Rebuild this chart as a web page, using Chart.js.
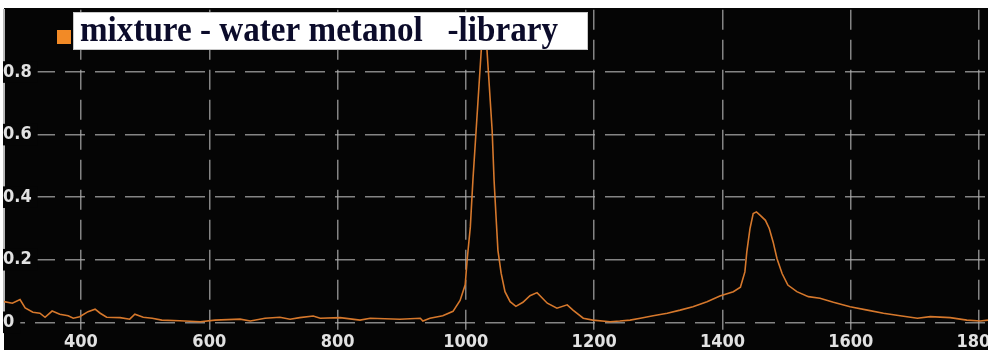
<!DOCTYPE html>
<html>
<head>
<meta charset="utf-8">
<script src="https://cdn.jsdelivr.net/npm/chart.js@4.4.0/dist/chart.umd.min.js"></script>
<style>
  html, body { margin: 0; padding: 0; background: #fff; }
  #wrap { width: 988px; height: 350px; }
</style>
</head>
<body>
<div id="wrap"><canvas id="myChart" width="988" height="350"></canvas></div>
<script>
// spectrum (wavenumber / intensity)
const wavenumbers = [280, 293, 305, 313, 325, 336, 344, 355, 367, 380, 388, 398, 411, 422, 430, 440, 461, 476, 484, 497,
  511, 526, 554, 586, 609, 648, 664, 687, 710, 726, 741, 762, 773, 804, 835, 851, 897, 929, 933, 944,
  964, 980, 991, 999, 1002, 1007, 1011, 1016, 1021, 1024, 1027, 1029, 1031, 1033, 1036, 1041, 1044, 1047, 1050, 1055,
  1061, 1069, 1078, 1089, 1100, 1111, 1127, 1142, 1158, 1167, 1183, 1198, 1225, 1240, 1256, 1272, 1292, 1314, 1334, 1354,
  1376, 1396, 1417, 1428, 1435, 1438, 1443, 1448, 1453, 1459, 1467, 1473, 1479, 1485, 1493, 1502, 1516, 1534, 1552, 1573,
  1599, 1626, 1651, 1677, 1704, 1724, 1755, 1781, 1802, 1814];
const intensity = [0.066, 0.061, 0.073, 0.046, 0.032, 0.029, 0.016, 0.036, 0.026, 0.021, 0.013, 0.018, 0.034, 0.042, 0.029, 0.016, 0.015, 0.010, 0.026, 0.016,
  0.013, 0.007, 0.005, 0.002, 0.007, 0.010, 0.004, 0.013, 0.016, 0.010, 0.015, 0.020, 0.013, 0.015, 0.007, 0.013, 0.010, 0.013, 0.004, 0.013,
  0.021, 0.035, 0.070, 0.120, 0.199, 0.305, 0.454, 0.613, 0.773, 0.869, 0.950, 0.970, 0.950, 0.869, 0.773, 0.613, 0.454, 0.340, 0.230, 0.157,
  0.098, 0.066, 0.051, 0.064, 0.085, 0.095, 0.061, 0.045, 0.056, 0.039, 0.013, 0.007, 0.002, 0.004, 0.007, 0.013, 0.021, 0.029, 0.039, 0.050,
  0.066, 0.084, 0.098, 0.112, 0.161, 0.225, 0.300, 0.348, 0.353, 0.342, 0.326, 0.300, 0.257, 0.204, 0.156, 0.119, 0.098, 0.082, 0.077, 0.064,
  0.050, 0.039, 0.029, 0.021, 0.013, 0.018, 0.015, 0.007, 0.004, 0.007];
const xTicks = [400, 600, 800, 1000, 1200, 1400, 1600, 1800];
const yTicks = [0, 0.2, 0.4, 0.6, 0.8];
const seriesLabel = 'mixture - water metanol   -library';

const tickFont = { family: '"Liberation Sans Narrow", "DejaVu Sans Condensed", "Liberation Sans", sans-serif', size: 18, weight: 'bold' };
const gridLines = { color: 'rgba(175,175,175,0.75)', lineWidth: 1.5, drawTicks: false, tickLength: 0 };

// black plot panel with the white strip on top / left
const panel = {
  id: 'panel',
  beforeDraw(chart) {
    const ctx = chart.ctx;
    ctx.save();
    ctx.fillStyle = '#ffffff';
    ctx.fillRect(0, 0, chart.width, chart.height);
    ctx.fillStyle = '#050505';
    ctx.fillRect(4, 8, chart.width - 4, chart.height - 8);
    ctx.restore();
  }
};

// the white legend box that sits over the plot
const legendBox = {
  id: 'legendBox',
  afterDraw(chart) {
    const ctx = chart.ctx;
    const label = chart.data.datasets[0].label;
    ctx.save();
    ctx.fillStyle = '#f28a26';
    ctx.fillRect(57, 30, 14, 14);
    ctx.fillStyle = '#ffffff';
    ctx.fillRect(73, 12, 515, 38);
    ctx.strokeStyle = '#c8c8c8';
    ctx.lineWidth = 1;
    ctx.strokeRect(73.5, 12.5, 514, 37);
    ctx.font = 'bold 30px "Liberation Serif", "Times New Roman", serif';
    ctx.fillStyle = '#0b0b2a';
    const w = ctx.measureText(label).width;
    ctx.translate(80, 41);
    ctx.scale(478 / w, 1.18);
    ctx.fillText(label, 0, 0);
    ctx.restore();
  }
};

new Chart('myChart', {
  type: 'line',
  data: {
    datasets: [{
      label: seriesLabel,
      data: wavenumbers.map((x, i) => ({ x: x, y: intensity[i] })),
      borderColor: 'rgb(214,120,44)',
      backgroundColor: '#f28a26',
      borderWidth: 1.6,
      pointRadius: 0,
      tension: 0
    }]
  },
  options: {
    responsive: false,
    animation: false,
    layout: { padding: { left: 4, top: 8, right: 0, bottom: 0 } },
    plugins: { legend: { display: false }, tooltip: { enabled: false } },
    scales: {
      x: {
        type: 'linear',
        min: 280,
        max: 1814,
        afterBuildTicks: (s) => { s.ticks = xTicks.map(v => ({ value: v })); },
        afterFit: (s) => { s.height = 20; s.paddingLeft = 0; s.paddingRight = 0; },
        grid: Object.assign({ borderDash: [20, 10] }, gridLines),
        border: { display: false, dash: [20, 10] },
        ticks: { color: '#e2e2e2', font: tickFont, padding: 2, maxRotation: 0, autoSkip: false,
          callback: (v) => String(v) }
      },
      y: {
        min: -0.0246,
        max: 0.999,
        afterBuildTicks: (s) => { s.ticks = yTicks.map(v => ({ value: v })); },
        afterFit: (s) => { s.width = 0; },
        grid: gridLines,
        border: { display: true, color: '#b8b8b8', width: 2, dash: [20, 10] },
        ticks: {
          color: '#e2e2e2', font: tickFont, mirror: true, padding: -1,
          showLabelBackdrop: true, backdropColor: '#050505',
          backdropPadding: { left: 0, right: 6, top: 0, bottom: 0 },
          callback: (v) => String(v)
        }
      }
    }
  },
  plugins: [panel, legendBox]
});
</script>
</body>
</html>
